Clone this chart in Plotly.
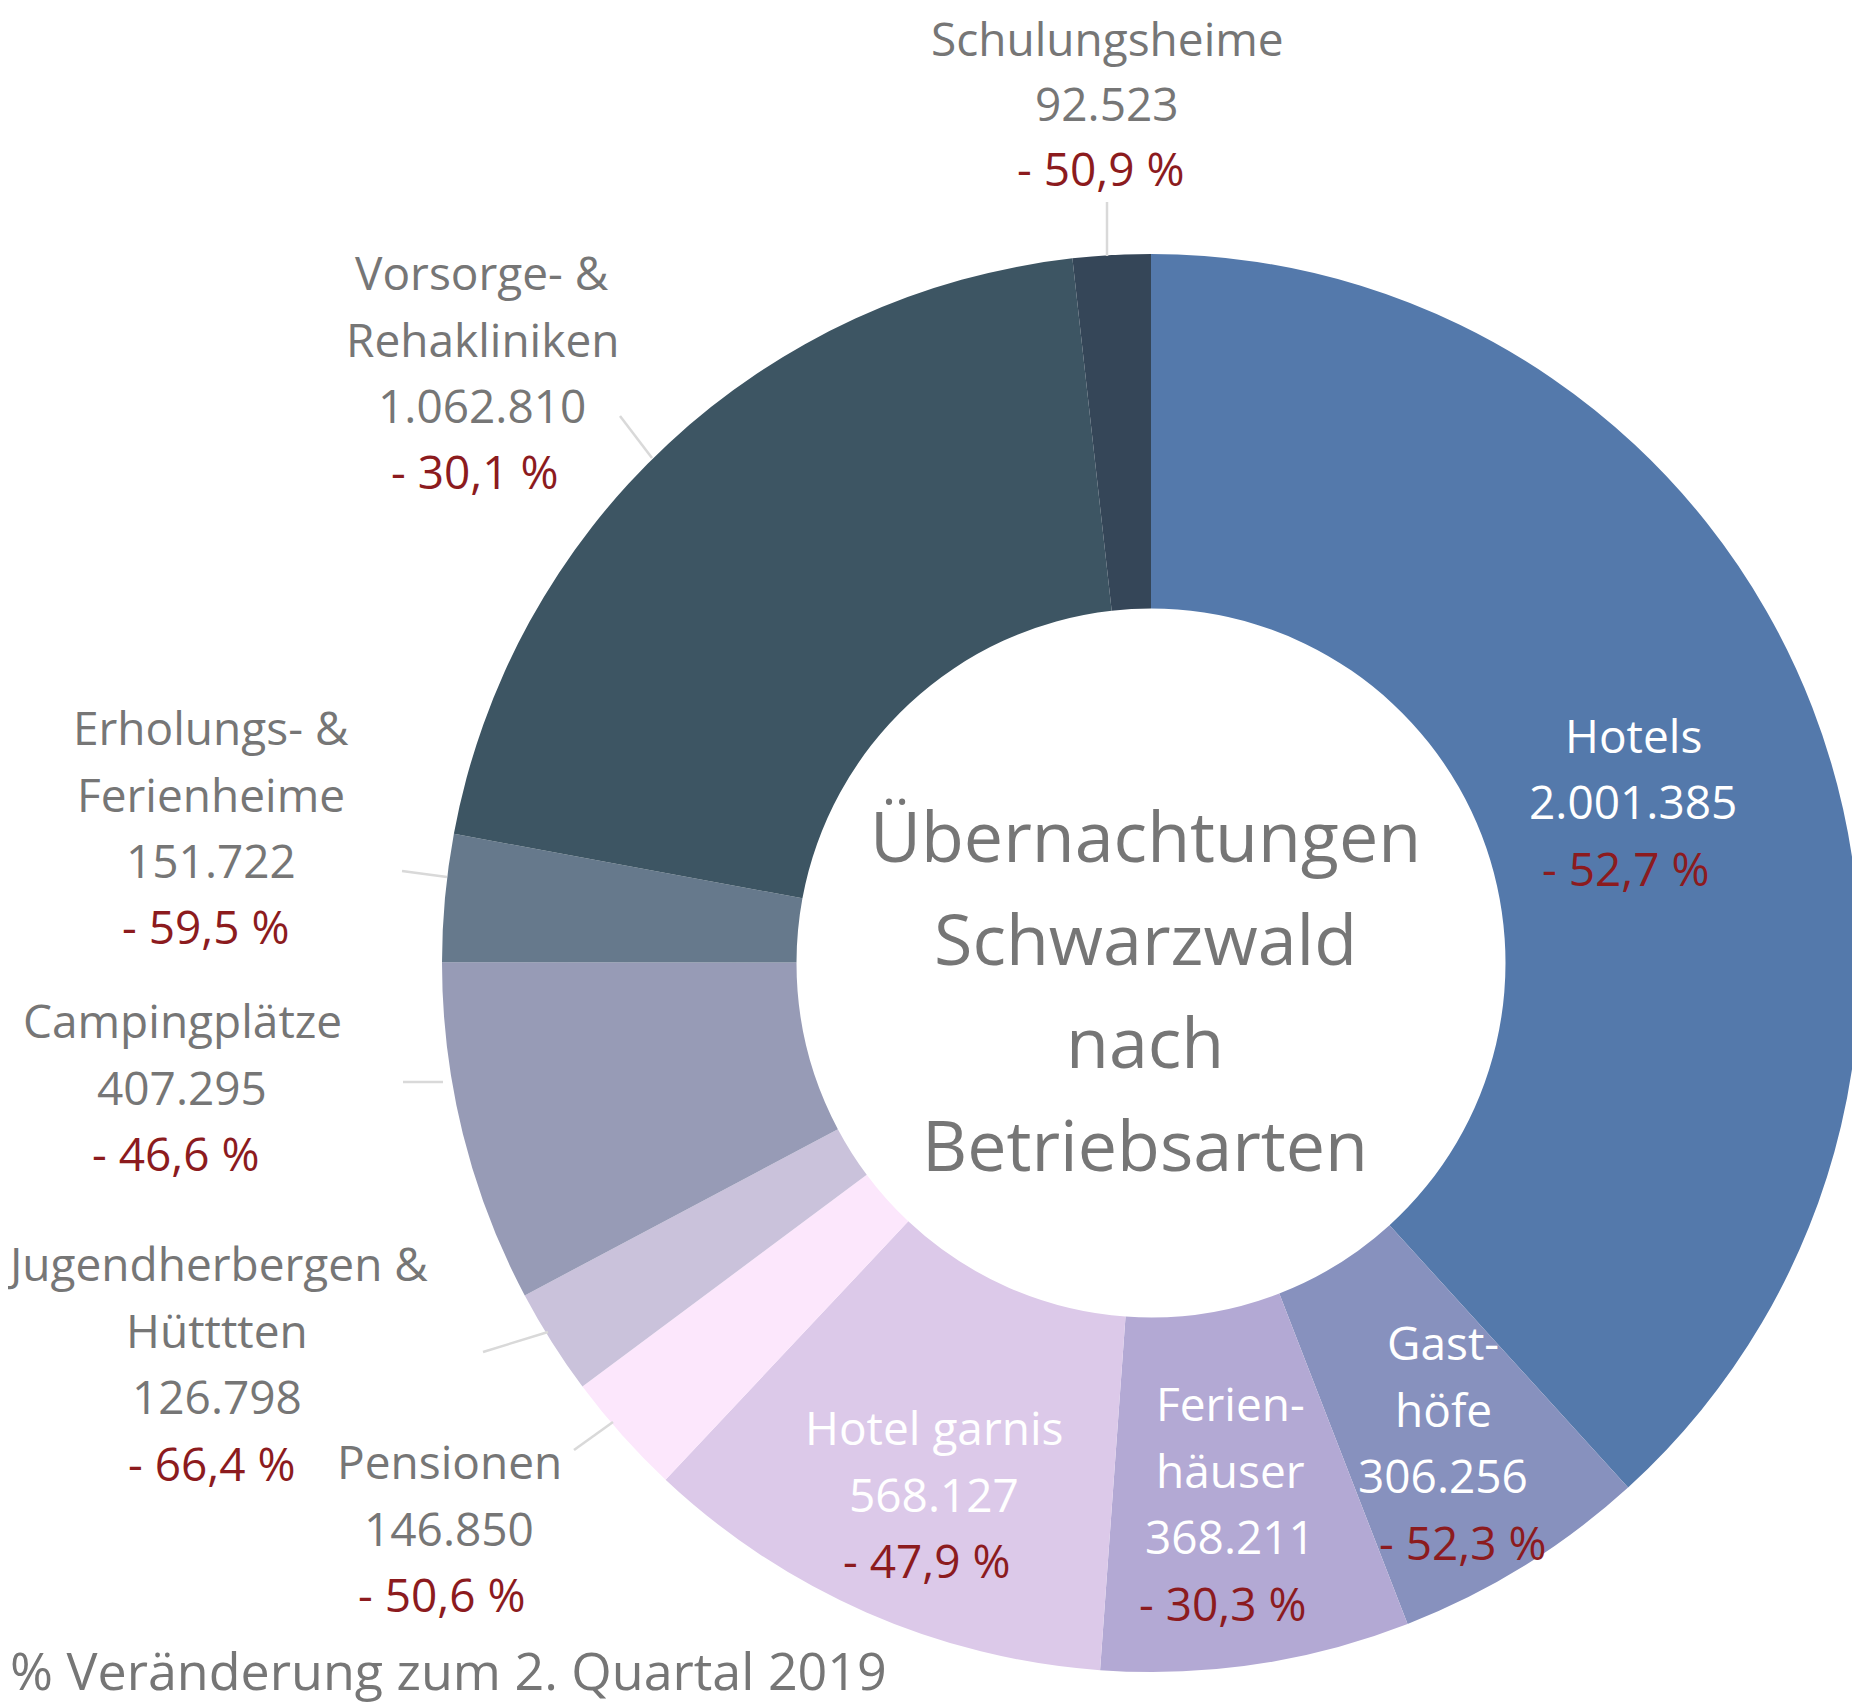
import plotly.graph_objects as go

# the page body adds an 8 px margin, so the figure is drawn 8 px smaller and offset
OFF = 8
W, H = 1860 - OFF, 1707 - OFF

# ---------------- data ----------------
categories = ["Hotels", "Gasthöfe", "Ferienhäuser", "Hotel garnis", "Pensionen",
              "Jugendherbergen & Hütttten", "Campingplätze", "Erholungs- & Ferienheime",
              "Vorsorge- & Rehakliniken", "Schulungsheime"]
label_lines = [["Hotels"], ["Gast-", "höfe"], ["Ferien-", "häuser"], ["Hotel garnis"],
               ["Pensionen"], ["Jugendherbergen &", "Hütttten"], ["Campingplätze"],
               ["Erholungs- &", "Ferienheime"], ["Vorsorge- &", "Rehakliniken"],
               ["Schulungsheime"]]
overnight_stays = [2001385, 306256, 368211, 568127, 146850, 126798, 407295, 151722, 1062810, 92523]
change_pct = [-52.7, -52.3, -30.3, -47.9, -50.6, -66.4, -46.6, -59.5, -30.1, -50.9]
title_lines = ["Übernachtungen", "Schwarzwald", "nach", "Betriebsarten"]
footer_text = "% Veränderung zum 2. Quartal 2019"

# ---------------- style ----------------
slice_colors = ["#5479AB", "#8791BE", "#B3A9D4", "#DCC9E9", "#FCE7FC",
                "#CAC2DB", "#979BB6", "#66798C", "#3D5563", "#354658"]
label_on_slice = [True, True, True, True, False, False, False, False, False, False]
GRAY = "#767676"
RED = "#8C1B1E"
FONT = "Open Sans"
LABEL_SIZE = 46
LINE_STEP = 66.5

# label placement in page pixels: (x centre, y of first line, x shift of % line, line step)
label_pos = [(1633, 735, -7, 66.5), (1443, 1342, 20, 66.5), (1230, 1403, -7, 66.5),
             (934, 1427, -7, 66.5), (449, 1461, -7, 66.5), (217, 1263, -5, 66.5),
             (182, 1020, -6, 66.5), (211, 727, -5, 66.5), (482, 272, -7, 66.5),
             (1107, 38, -6, 65)]
# leader lines in page pixels
leaders = [((1107, 202), (1107, 256)), ((620, 416), (652, 458)), ((402, 871), (447, 877)),
           ((403, 1082), (443, 1082)), ((483, 1352), (548, 1332)), ((574, 1450), (613, 1422))]

CX, CY, R = 1151, 963, 709


def px(x):
    return (x - OFF) / W


def py(y):
    return 1 - (y - OFF) / H


def fmt_int(v):
    return f"{v:,}".replace(",", ".")


def fmt_pct(p):
    return ("- " if p < 0 else "+ ") + f"{abs(p):.1f}".replace(".", ",") + " %"


fig = go.Figure(go.Pie(
    labels=categories,
    values=overnight_stays,
    sort=False,
    direction="clockwise",
    rotation=0,
    hole=0.5,
    marker=dict(colors=slice_colors, line=dict(width=0)),
    textinfo="none",
    hovertemplate="%{label}: %{value}<extra></extra>",
    domain=dict(x=[max(0, px(CX - R)), min(1, px(CX + R))], y=[py(CY + R), py(CY - R)]),
    showlegend=False,
))

annotations = []
for i, lines in enumerate(label_lines):
    x, y0, dx, step = label_pos[i]
    col = "white" if label_on_slice[i] else GRAY
    texts = lines + [fmt_int(overnight_stays[i])]
    for k, t in enumerate(texts):
        annotations.append(dict(text=t, x=px(x), y=py(y0 + k * step), xref="paper", yref="paper",
                                xanchor="center", yanchor="middle", showarrow=False,
                                font=dict(family=FONT, size=LABEL_SIZE, color=col)))
    annotations.append(dict(text=fmt_pct(change_pct[i]), x=px(x + dx), y=py(y0 + len(texts) * step),
                            xref="paper", yref="paper", xanchor="center", yanchor="middle",
                            showarrow=False, font=dict(family=FONT, size=LABEL_SIZE, color=RED)))

for k, t in enumerate(title_lines):
    annotations.append(dict(text=t, x=px(1145), y=py(835 + k * 103), xref="paper", yref="paper",
                            xanchor="center", yanchor="middle", showarrow=False,
                            font=dict(family=FONT, size=70, color=GRAY)))

annotations.append(dict(text=footer_text, x=px(8), y=py(1669), xref="paper", yref="paper",
                        xanchor="left", yanchor="middle", showarrow=False,
                        font=dict(family=FONT, size=52, color=GRAY)))

shapes = [dict(type="line", xref="paper", yref="paper", x0=px(a[0]), y0=py(a[1]), x1=px(b[0]), y1=py(b[1]),
               line=dict(color="#D9D9D9", width=2.5)) for a, b in leaders]

fig.update_layout(width=W, height=H, margin=dict(l=0, r=0, t=0, b=0),
                  paper_bgcolor="white", plot_bgcolor="white",
                  annotations=annotations, shapes=shapes)

fig.write_html("out.html")
